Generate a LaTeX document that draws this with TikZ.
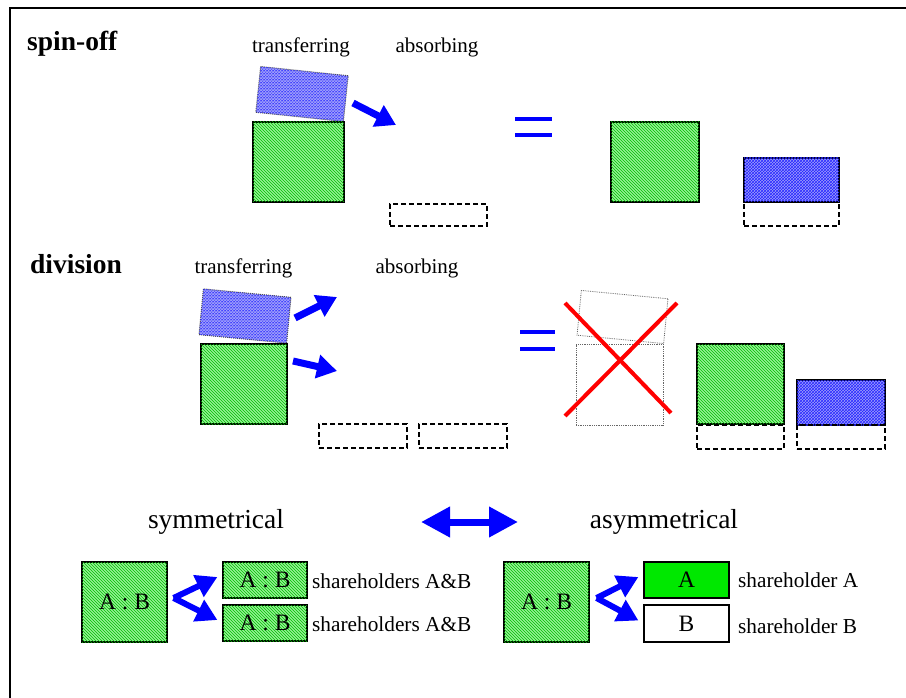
\documentclass[tikz,border=0pt]{standalone}
\usepackage{fontspec}
\setmainfont{Liberation Serif}
\usetikzlibrary{arrows.meta,patterns}

\definecolor{hatchgreen}{RGB}{150,240,150}
\definecolor{hatchblue}{RGB}{160,160,250}
\definecolor{arrowblue}{RGB}{0,0,255}
\definecolor{solidgreen}{RGB}{0,232,0}

\tikzset{
  greenbox/.style={draw=black, line width=1.2pt, fill=hatchgreen, inner sep=0pt,
    postaction={pattern=north west lines, pattern color=green!75!black}},
  bluebox/.style={draw=black, line width=1.2pt, fill=hatchblue, inner sep=0pt,
    postaction={pattern=crosshatch, pattern color=blue!85}},
  bluetilt/.style={draw=black!70, densely dotted, line width=1pt, fill=hatchblue, inner sep=0pt,
    postaction={pattern=crosshatch, pattern color=blue!85}},
  ghost/.style={draw=black!60, densely dotted, line width=0.8pt, inner sep=0pt},
  slot/.style={draw=black, line width=1.5pt, dash pattern=on 5pt off 3pt, inner sep=0pt},
  plainbox/.style={draw=black, line width=1.2pt, inner sep=0pt},
  movearrow/.style={draw=arrowblue, line width=7pt,
    -{Triangle[length=20pt,width=23pt]}},
  forkarrow/.style={draw=arrowblue, line width=6pt,
    -{Triangle[length=21pt,width=23pt]}},
  eqbar/.style={draw=arrowblue, line width=4.5pt},
  crossline/.style={draw=red, line width=4pt},
  title/.style={font=\fontsize{27.5}{30}\selectfont\bfseries, inner sep=0pt},
  lab/.style={font=\fontsize{21}{24}\selectfont, inner sep=0pt},
  biglab/.style={font=\fontsize{27.5}{30}\selectfont, inner sep=0pt},
  holder/.style={font=\fontsize{21.3}{24}\selectfont, inner sep=0pt},
  ratio/.style={font=\fontsize{23.5}{26}\selectfont},
}

\begin{document}
\begin{tikzpicture}[x=1pt, y=-1pt]
\useasboundingbox (0,0) rectangle (906,698);

% outer frame
\draw[line width=2pt] (10,698) -- (10,8) -- (906,8);

% ---------- spin-off ----------
\node[title, anchor=base west] (tspin) at (27,51) {spin-off};
\node[lab] (ltrans1) at (301,47) {transferring};
\node[lab] (labs1) at (437,47) {absorbing};

\node[bluetilt, minimum width=88pt, minimum height=46pt, rotate=-6] (sbA) at (302,94) {};
\node[greenbox, minimum width=91pt, minimum height=80pt] (sgA) at (298.5,162) {};
\coordinate (sa1) at (353,103);
\coordinate (sa2) at (396,125);
\draw[movearrow] (sa1) -- (sa2);
\node[slot, minimum width=97pt, minimum height=22pt] (sslot) at (438.5,215) {};

\draw[eqbar] (515,119) -- (552,119);
\draw[eqbar] (515,135) -- (552,135);

\node[greenbox, minimum width=88pt, minimum height=80pt] (sgR) at (655,162) {};
\node[slot, minimum width=95pt, minimum height=24pt] (sslotR) at (791.5,214) {};
\node[bluebox, minimum width=95pt, minimum height=44pt] (sbR) at (791.5,180) {};

% ---------- division ----------
\node[title, anchor=base west] (tdiv) at (30,273) {division};
\node[lab] (ltrans2) at (243.5,268) {transferring};
\node[lab] (labs2) at (417,268) {absorbing};

\node[bluetilt, minimum width=88pt, minimum height=46pt, rotate=-5.5] (dbA) at (245,316) {};
\node[greenbox, minimum width=86pt, minimum height=80pt] (dgA) at (244,384) {};
\coordinate (da1) at (295,318);
\coordinate (da2) at (337,297);
\coordinate (db1) at (293,361);
\coordinate (db2) at (337,371);
\draw[movearrow] (da1) -- (da2);
\draw[movearrow] (db1) -- (db2);
\node[slot, minimum width=88pt, minimum height=24pt] (dslot1) at (363,436) {};
\node[slot, minimum width=88pt, minimum height=24pt] (dslot2) at (463,436) {};

\draw[eqbar] (520,332) -- (555,332);
\draw[eqbar] (520,349) -- (555,349);

% dissolved company, crossed out
\node[ghost, minimum width=87pt, minimum height=45pt, rotate=-5.5] (gtop) at (622.5,317) {};
\node[ghost, minimum width=87pt, minimum height=81pt] (gsq) at (619.5,384.5) {};
\draw[crossline] (565,303) -- (671,413);
\draw[crossline] (677,303) -- (565,416);

\node[greenbox, minimum width=87pt, minimum height=80pt] (dgR) at (740.5,384) {};
\node[bluebox, minimum width=88pt, minimum height=45pt] (dbR) at (841,402.5) {};
\node[slot, minimum width=87pt, minimum height=24pt] (dslotR1) at (740.5,437) {};
\node[slot, minimum width=88pt, minimum height=24pt] (dslotR2) at (841,437) {};

% ---------- symmetrical / asymmetrical ----------
\node[biglab] (lsym) at (216,522) {symmetrical};
\node[biglab] (lasym) at (664,522) {asymmetrical};
\coordinate (dl) at (421,522);
\coordinate (dr) at (518,522);
\draw[draw=arrowblue, line width=7pt,
  {Triangle[length=29pt,width=29pt]}-{Triangle[length=29pt,width=29pt]}] (dl) -- (dr);

% symmetrical split
\node[greenbox, ratio, minimum width=85pt, minimum height=80pt] (bigL) at (124.5,602) {A : B};
\node[greenbox, ratio, minimum width=84pt, minimum height=36pt] (smL1) at (265,580) {A : B};
\node[greenbox, ratio, minimum width=84pt, minimum height=36pt] (smL2) at (265,623) {A : B};
\node[holder, anchor=west] (hL1) at (312,581) {shareholders A\&B};
\node[holder, anchor=west] (hL2) at (312,624) {shareholders A\&B};
\coordinate (forkL) at ([xshift=6pt,yshift=4pt]bigL.east);
\draw[forkarrow] (forkL) -- ([xshift=-5pt,yshift=3pt]smL1.west);
\draw[forkarrow] (forkL) -- ([xshift=-5pt,yshift=3pt]smL2.west);

% asymmetrical split
\node[greenbox, ratio, minimum width=85pt, minimum height=80pt] (bigR) at (546.5,602) {A : B};
\node[plainbox, ratio, fill=solidgreen, minimum width=85pt, minimum height=36pt] (smR1) at (686.5,580) {A};
\node[plainbox, ratio, fill=white, minimum width=85pt, minimum height=37pt] (smR2) at (686.5,623.5) {B};
\node[holder, anchor=west] (hR1) at (738,580) {shareholder A};
\node[holder, anchor=west] (hR2) at (738,626) {shareholder B};
\coordinate (forkR) at ([xshift=7pt,yshift=4pt]bigR.east);
\draw[forkarrow] (forkR) -- ([xshift=-5pt,yshift=3pt]smR1.west);
\draw[forkarrow] (forkR) -- ([xshift=-5pt,yshift=3pt]smR2.west);
\end{tikzpicture}
\end{document}
